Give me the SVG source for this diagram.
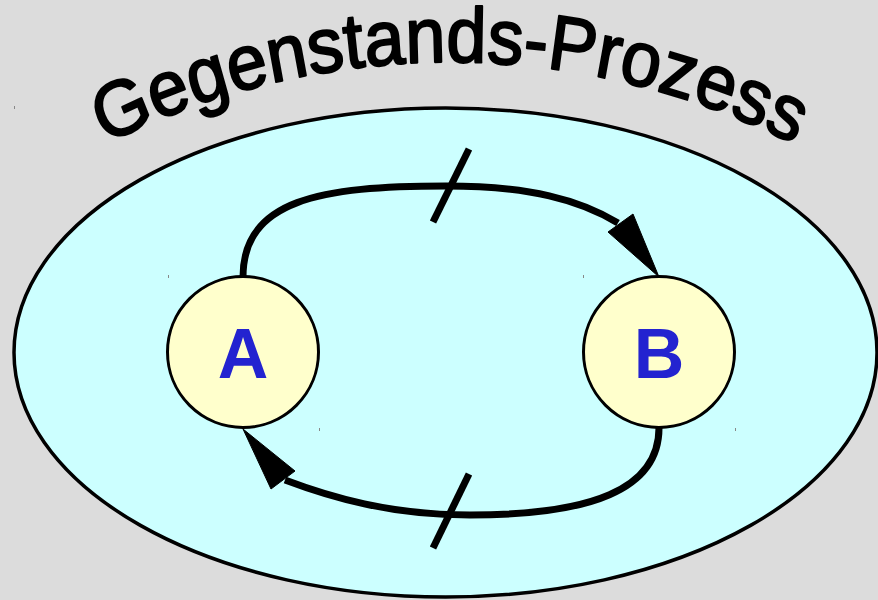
<svg xmlns="http://www.w3.org/2000/svg" xmlns:xlink="http://www.w3.org/1999/xlink" width="878" height="600" viewBox="0 0 878 600">
  <style>
    .title { font-family: "Liberation Sans", Arial, sans-serif; font-size: 72px; fill: #000; stroke: #000; stroke-width: 2; stroke-linejoin: round; }
    .node circle { fill: #ffffcc; stroke: #000; stroke-width: 3; }
    .node text { font-family: "Liberation Sans", Arial, sans-serif; font-weight: bold; font-size: 70px; fill: #2323d0; text-anchor: middle; }
    .conn { fill: none; stroke: #000; stroke-width: 7; }
    .tick { stroke: #000; stroke-width: 7; }
    .head { fill: #000; stroke: #000; stroke-width: 1; stroke-linejoin: round; }
    .speck { fill: #888; }
  </style>
  <defs>
    <path id="titleArc" d="M73,150.1 A760,703.7 0 0 1 827,150.1"/>
  </defs>
  <rect x="0" y="0" width="878" height="600" fill="#dcdcdc"/>
  <g id="process">
    <ellipse cx="445.5" cy="352.5" rx="431.5" ry="244.5" fill="#ccffff" stroke="#000" stroke-width="3.5"/>
  </g>
  <g id="title" transform="scale(1,1.08)">
    <text class="title"><textPath xlink:href="#titleArc" href="#titleArc" startOffset="50%" text-anchor="middle">Gegenstands-Prozess</textPath></text>
  </g>
  <g id="connectors">
    <path class="conn" d="M243,277 C243,200 320,186 446,186 C530,186 580,200 618,223"/>
    <polygon class="head" points="608,232 633,214 659,277"/>
    <line class="tick" x1="433" y1="222" x2="469" y2="149"/>
    <path class="conn" d="M659,428 C659,490 590,515 470,515 C390,515 330,497 285,480"/>
    <polygon class="head" points="295,471 271,489 243,429"/>
    <line class="tick" x1="469" y1="474" x2="433" y2="548"/>
  </g>
  <g id="nodeA" class="node">
    <circle cx="243" cy="352" r="75.5"/>
    <text x="243" y="377.5">A</text>
  </g>
  <g id="nodeB" class="node">
    <circle cx="659" cy="352" r="75.5"/>
    <text x="659" y="377.5">B</text>
  </g>
  <g id="specks">
    <rect class="speck" x="14" y="106" width="1" height="3"/>
    <rect class="speck" x="168" y="275" width="1" height="3"/>
    <rect class="speck" x="583" y="275" width="1" height="3"/>
    <rect class="speck" x="319" y="428" width="1" height="3"/>
    <rect class="speck" x="735" y="428" width="1" height="3"/>
  </g>
</svg>
